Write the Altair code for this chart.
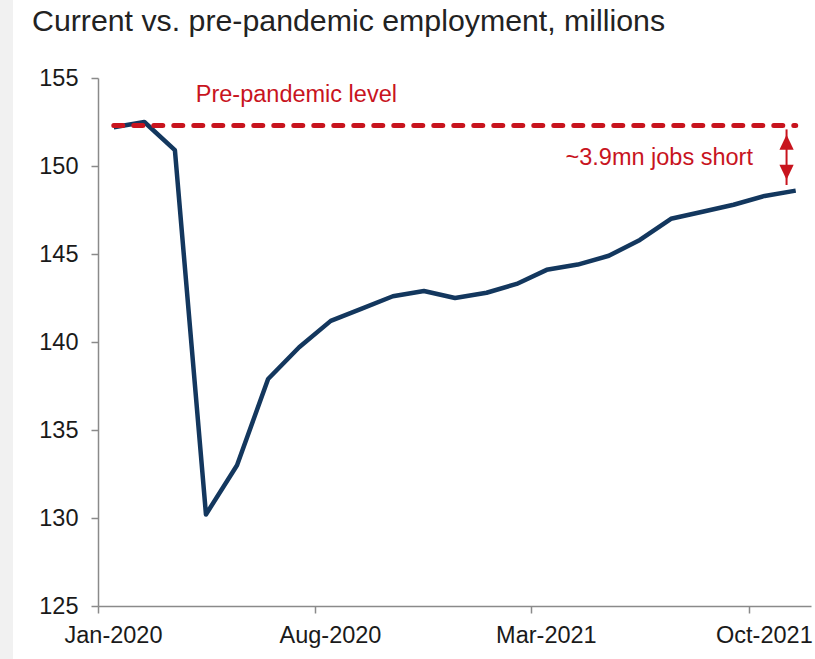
import altair as alt
import pandas as pd

# Monthly payroll employment, millions (Jan 2020 - Nov 2021)
months = [
    "2020-01", "2020-02", "2020-03", "2020-04", "2020-05", "2020-06",
    "2020-07", "2020-08", "2020-09", "2020-10", "2020-11", "2020-12",
    "2021-01", "2021-02", "2021-03", "2021-04", "2021-05", "2021-06",
    "2021-07", "2021-08", "2021-09", "2021-10", "2021-11",
]
employment = [
    152.2, 152.5, 150.9, 130.2, 133.0, 137.9,
    139.7, 141.2, 141.9, 142.6, 142.9, 142.5,
    142.8, 143.3, 144.1, 144.4, 144.9, 145.8,
    147.0, 147.4, 147.8, 148.3, 148.6,
]
pre_pandemic_level = 152.3

y_ticks = [125, 130, 135, 140, 145, 150, 155]
x_ticks = ["2020-01", "2020-08", "2021-03", "2021-10"]

# annotation text and anchor points
level_label = "Pre-pandemic level"
level_label_date = "2020-04-06"
level_label_y = 153.65
gap_label = "~3.9mn jobs short"
gap_label_date = "2021-10-05"
gap_label_y = 150.07
arrow_date = "2021-11-07"
arrow_top = 151.78
arrow_bottom = 149.22

NAVY = "#13375e"
RED = "#c8141e"
AXIS_GREY = "#8a8a8a"
FONT = "Liberation Sans"


def to_dt(ym_or_date):
    parts = [int(p) for p in ym_or_date.split("-")]
    if len(parts) == 2:
        parts.append(1)
    return alt.DateTime(year=parts[0], month=parts[1], date=parts[2])


df = pd.DataFrame({
    "date": [m + "-01T00:00:00" for m in months],
    "value": employment,
})

x_enc = alt.X(
    "yearmonth(date):T",
    bandPosition=0.5,
    scale=alt.Scale(domain=[to_dt("2020-01"), to_dt("2021-12")]),
    axis=alt.Axis(
        values=[to_dt(t) for t in x_ticks],
        format="%b-%Y",
        title=None,
        grid=False,
        labelFlush=False,
        labelOffset=15,
        tickSize=7,
        labelPadding=10,
    ),
)
y_enc = alt.Y(
    "value:Q",
    scale=alt.Scale(domain=[125, 155], nice=False, zero=False),
    axis=alt.Axis(
        values=y_ticks,
        title=None,
        grid=False,
        tickSize=7,
        labelPadding=13,
    ),
)

base = alt.Chart(df)

employment_line = base.mark_line(color=NAVY, strokeWidth=4.5, strokeJoin="round").encode(
    x=x_enc, y=y_enc
)

level_line = base.mark_line(
    color=RED, strokeWidth=5, strokeDash=[9, 11], strokeCap="round"
).encode(x=x_enc, y=alt.Y(datum=pre_pandemic_level))

level_text = alt.Chart().mark_text(
    text=level_label, color=RED, font=FONT, fontSize=23.5,
    align="left", baseline="alphabetic",
).encode(
    x=alt.X(datum=to_dt(level_label_date), type="temporal"),
    y=alt.Y(datum=level_label_y),
)

gap_text = alt.Chart().mark_text(
    text=gap_label, color=RED, font=FONT, fontSize=23.5,
    align="right", baseline="alphabetic",
).encode(
    x=alt.X(datum=to_dt(gap_label_date), type="temporal"),
    y=alt.Y(datum=gap_label_y),
)

arrow_shaft = alt.Chart().mark_rule(color=RED, strokeWidth=2).encode(
    x=alt.X(datum=to_dt(arrow_date), type="temporal"),
    y=alt.Y(datum=arrow_top + 0.3),
    y2=alt.Y2(datum=arrow_bottom - 0.3),
)
arrow_head_up = alt.Chart().mark_point(
    shape="M0,0L0.95,2L-0.95,2Z", size=225, filled=True, color=RED, opacity=1,
).encode(
    x=alt.X(datum=to_dt(arrow_date), type="temporal"),
    y=alt.Y(datum=arrow_top),
)
arrow_head_down = alt.Chart().mark_point(
    shape="M0,0L0.95,-2L-0.95,-2Z", size=225, filled=True, color=RED, opacity=1,
).encode(
    x=alt.X(datum=to_dt(arrow_date), type="temporal"),
    y=alt.Y(datum=arrow_bottom),
)

# light grey margin strip on the far left of the page
side_strip = alt.Chart().mark_rect(color="#f1f1f1").encode(
    x=alt.value(-98), x2=alt.value(-85), y=alt.value(-78), y2=alt.value(581)
)

chart = alt.layer(
    side_strip,
    employment_line,
    level_line,
    level_text,
    gap_text,
    arrow_shaft,
    arrow_head_up,
    arrow_head_down,
).properties(
    width=713,
    height=528,
    background="white",
    autosize=alt.AutoSizeParams(type="none"),
    padding={"left": 98, "top": 78, "right": 4, "bottom": 53},
    title=alt.Title(
        "Current vs. pre-pandemic employment, millions",
        anchor="start",
        frame="group",
        baseline="alphabetic",
        dx=-66,
        dy=65,
        font=FONT,
        fontSize=30.3,
        fontWeight="normal",
        color="#222222",
    ),
).configure_view(
    stroke=None
).configure_axis(
    labelFont=FONT,
    labelFontSize=23.5,
    labelColor="#1a1a1a",
    domainColor=AXIS_GREY,
    domainWidth=1.5,
    tickColor=AXIS_GREY,
    tickWidth=1.5,
)

chart.save("out.html", embed_options={"renderer": "svg", "actions": False})
